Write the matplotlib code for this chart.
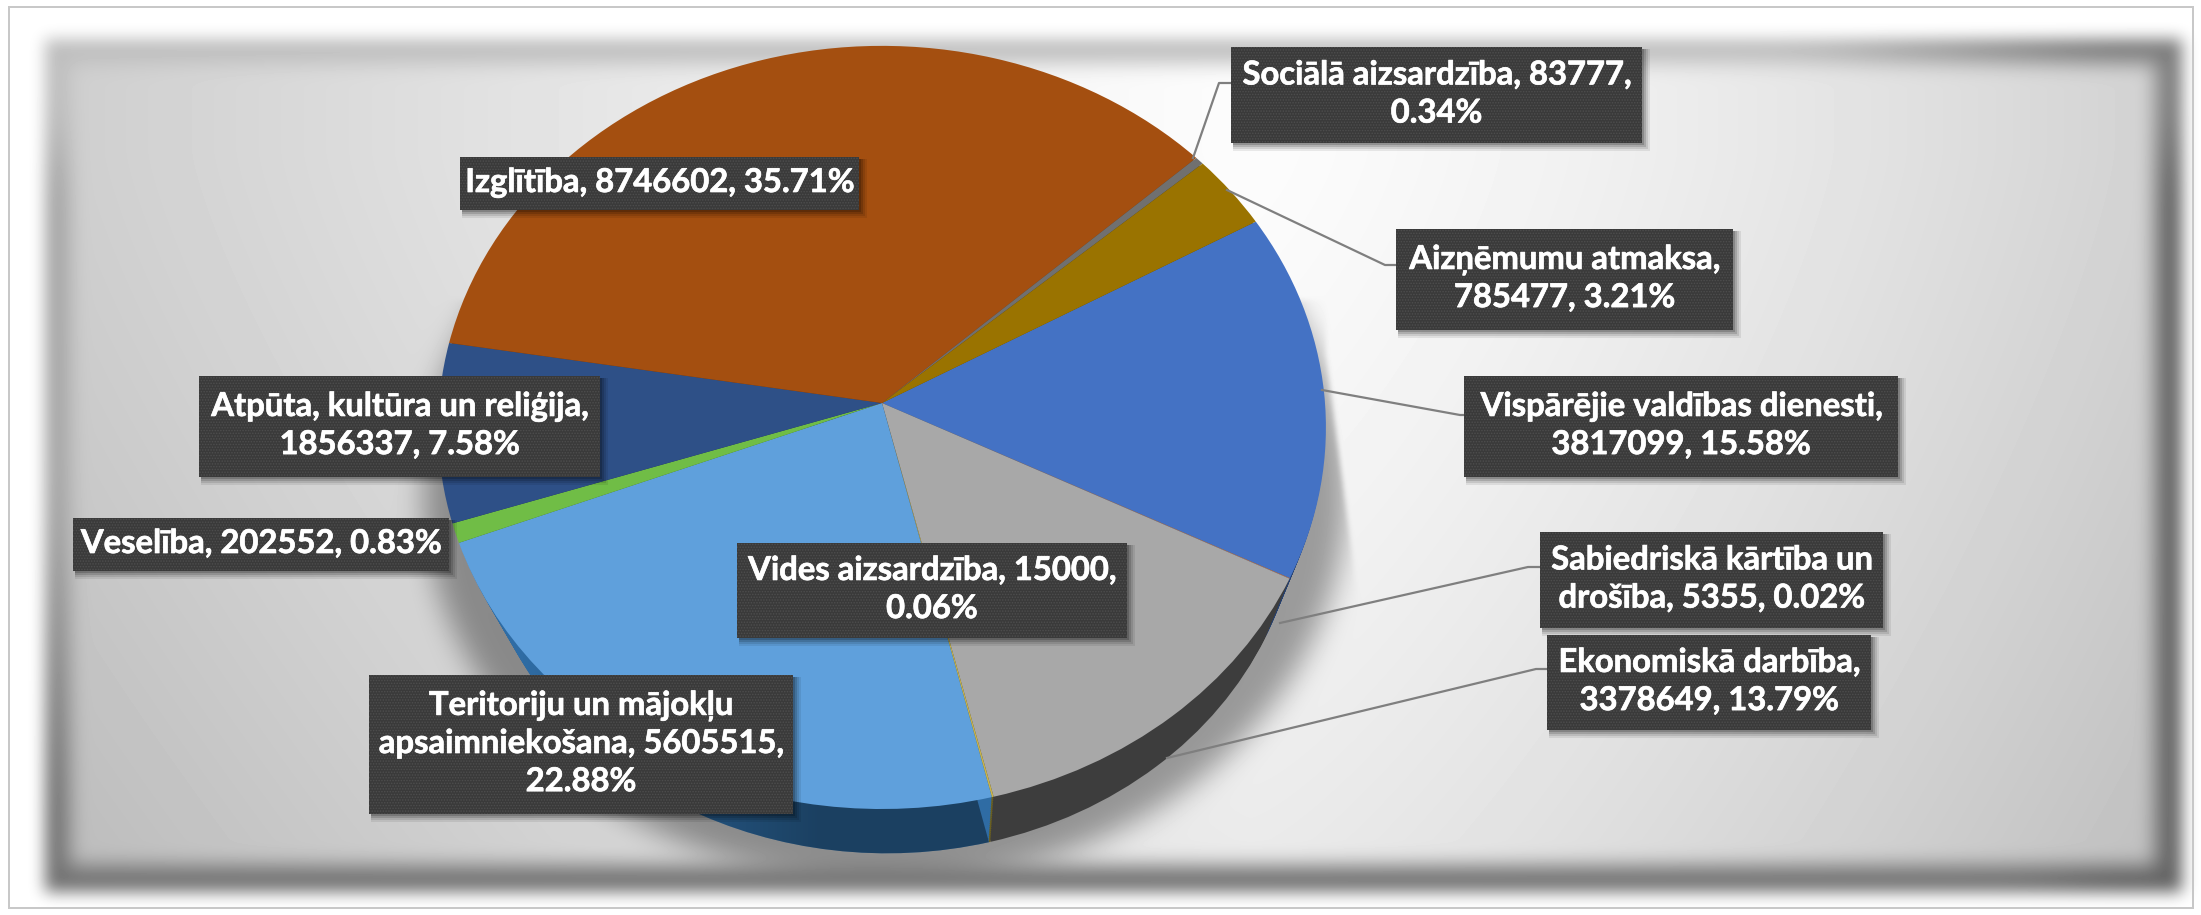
import numpy as np
import matplotlib
matplotlib.use("Agg")
import matplotlib.pyplot as plt
import matplotlib.patheffects as pe
from matplotlib.patches import Rectangle
from matplotlib.transforms import Transform

W, H = 2201, 915

categories = ["Vispārējie valdības dienesti", "Sabiedriskā kārtība un drošība",
              "Ekonomiskā darbība", "Vides aizsardzība",
              "Teritoriju un mājokļu apsaimniekošana", "Veselība",
              "Atpūta, kultūra un reliģija", "Izglītība",
              "Sociālā aizsardzība", "Aizņēmumu atmaksa"]
values = [3817099, 5355, 3378649, 15000, 5605515, 202552, 1856337, 8746602, 83777, 785477]
top_colors = ["#4472C4", "#ED7D31", "#A8A8A8", "#C9B44A", "#5FA0DC", "#70BD46",
              "#2E5087", "#A44F10", "#707070", "#9A7300"]
side_colors = ["#24406F", "#8A4A1C", "#3D3D3D", "#6A5F20", "#2F6CA4", "#3D6B2A",
               "#1A3050", "#6A3208", "#3A3A3A", "#5E4700"]
labels = ["Vispārējie valdības dienesti,\n3817099, 15.58%",
          "Sabiedriskā kārtība un\ndrošība, 5355, 0.02%",
          "Ekonomiskā darbība,\n3378649, 13.79%",
          "Vides aizsardzība, 15000,\n0.06%",
          "Teritoriju un mājokļu\napsaimniekošana, 5605515,\n22.88%",
          "Veselība, 202552, 0.83%",
          "Atpūta, kultūra un reliģija,\n1856337, 7.58%",
          "Izglītība, 8746602, 35.71%",
          "Sociālā aizsardzība, 83777,\n0.34%",
          "Aizņēmumu atmaksa,\n785477, 3.21%"]
# label boxes in pixels: left, top, right, bottom
boxes = [(1464, 376, 1898, 477), (1540, 532, 1883, 628), (1547, 635, 1871, 730),
         (737, 543, 1127, 638), (369, 675, 793, 814), (73, 518, 449, 571),
         (199, 376, 600, 477), (460, 157, 859, 210), (1231, 47, 1642, 143),
         (1396, 229, 1733, 330)]
leaders = [[(1322, 390), (1460, 415), (1471, 415)],
           [(1280, 623), (1528, 567), (1540, 567)],
           [(1167, 758), (1536, 669), (1547, 669)],
           [(1193, 158), (1219, 83), (1231, 83)],
           [(1227, 190), (1385, 265), (1396, 265)]]


def blur(a, r):
    for axis in (0, 1):
        for _ in range(3):
            pad = [(0, 0), (0, 0)]
            pad[axis] = (r + 1, r)
            c = np.cumsum(np.pad(a, pad, mode="edge"), axis=axis)
            hi = np.take(c, range(2 * r + 1, c.shape[axis]), axis=axis)
            lo = np.take(c, range(0, c.shape[axis] - 2 * r - 1), axis=axis)
            a = (hi - lo) / (2 * r + 1)
    return a


yy, xx = np.mgrid[0:H, 0:W].astype(float)

# panel gradient: brightest in the upper middle
hor = np.where(xx < 1250, 44 * ((1250 - xx) / 1150) ** 1.2, 42 * ((xx - 1250) / 900) ** 1.3)
grad = 252 - hor - 18 * (np.clip(yy - 150, 0, None) / 700) ** 1.3
# soft shadow of the pie
sh = (((xx - 885) / 462) ** 2 + ((yy - 490) / 392) ** 2 < 1).astype(float)
sh = blur(sh, 13)
sh[xx > 1325 + np.clip(yy - 350, 0, None) * 0.13] = 0
sh[yy < 300] = 0
sh = blur(sh, 2)
grad = grad * (1 - 0.36 * sh)

# panel frame
inner = blur(((xx > 68) & (xx < 2156) & (yy > 62) & (yy < 866)).astype(float), 9)
frame = blur(((xx > 44) & (xx < 2182) & (yy > 38) & (yy < 892)).astype(float), 7)
edge = np.minimum(165 - 50 * np.clip((yy - 500) / 300, 0, 1),
                  165 - 65 * np.clip((xx - 1800) / 300, 0, 1))
edge[yy < 150] += 25
edge = blur(edge, 30)
panel = inner * grad + (1 - inner) * edge
bg = frame * panel + (1 - frame) * 255
bg[6:8, 8:2194] = 200
bg[6:909, 8:10] = 200
bg[6:909, 2192:2194] = 200
bg[907:909, 8:2194] = 200


class Projection(Transform):
    input_dims = output_dims = 2
    is_affine = False
    has_inverse = False

    def __init__(self, cx, cy, ax_, ay_, k):
        super().__init__()
        self.p = (cx, cy, ax_, ay_, k)

    def transform_non_affine(self, v):
        cx, cy, ax_, ay_, k = self.p
        v = np.asarray(v, float)
        w = 1 + k * v[:, 1]
        return np.column_stack([cx + ax_ * v[:, 0] / w, cy - ay_ * v[:, 1] / w])


fig = plt.figure(figsize=(W / 100, H / 100), dpi=100)
ax = fig.add_axes([0, 0, 1, 1])
plt.rcParams["hatch.linewidth"] = 0.7
ax.imshow(bg, cmap="gray", vmin=0, vmax=255, extent=(0, W, H, 0), aspect="auto",
          interpolation="bilinear", zorder=0)

top = np.array([882, 403, 443, 380, 0.064])
bottom = np.array([887, 474, 411, 355, 0.064])

lowest = None
for t in np.linspace(1, 0, 22):
    p = bottom * t + top * (1 - t)
    is_top = t == 0
    wedges, _ = ax.pie(values, startangle=29.5, counterclock=False,
                       colors=top_colors if is_top else side_colors,
                       wedgeprops=dict(linewidth=0))
    for w in wedges:
        w.set_transform(Projection(*p) + ax.transData)
        w.set_clip_on(False)
        w.set_zorder(2 + 0.01 * (1 - t) + (0.1 if is_top else 0))
    if lowest is None:
        lowest = wedges

# the wall of the largest lower slice darkens towards its right end
ramp = np.clip((np.arange(W) - 520) / 300, 0, 1) * 0.5
shade = np.zeros((1, W, 4))
shade[0, :, 0:3] = (0.03, 0.08, 0.12)
shade[0, :, 3] = ramp
im = ax.imshow(shade, extent=(0, W, H, 0), aspect="auto", zorder=2.05)
im.set_clip_path(lowest[4].get_path(), lowest[4].get_transform())

for pts in leaders:
    ax.plot(*zip(*pts), color="#7f7f7f", lw=1.6, zorder=3)

for (l, t_, r, b), s in zip(boxes, labels):
    for d, a in ((8, 0.08), (6, 0.10), (4, 0.14), (2, 0.18)):
        ax.add_patch(Rectangle((l + 2, t_ + 2), r - l + d - 2, b - t_ + d - 2,
                               fc="black", ec="none", alpha=a, zorder=4))
    ax.add_patch(Rectangle((l, t_), r - l, b - t_, fc="#3A3A3A", ec="#4E4E4E",
                           lw=0, hatch="......", zorder=5))
    ax.text((l + r) / 2, (t_ + b) / 2 - 1, s, color="white", family="Lato", weight="bold",
            fontsize=23.6, ha="center", va="center", linespacing=1.38, zorder=6,
            path_effects=[pe.withStroke(linewidth=0.5, foreground="white")])

ax.set_aspect("auto")
ax.set_xlim(0, W)
ax.set_ylim(H, 0)
ax.axis("off")
fig.savefig("out.png", dpi=100)
